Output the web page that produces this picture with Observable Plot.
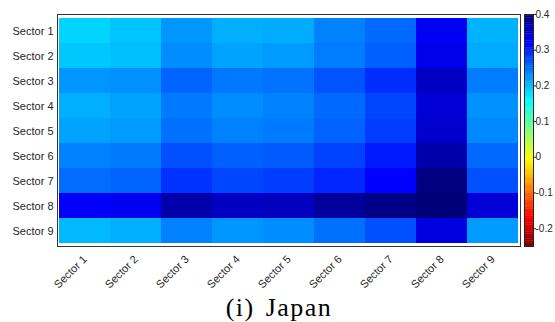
<!DOCTYPE html>
<html>
<head>
<meta charset="utf-8">
<script src="https://cdn.jsdelivr.net/npm/d3@7"></script>
<script src="https://cdn.jsdelivr.net/npm/@observablehq/plot@0.6"></script>
<style>
  html, body { margin: 0; padding: 0; background: #fff; }
  #wrap { position: relative; width: 555px; height: 322px; }
  #heat { position: absolute; left: 0; top: 0; }
  #cbar { position: absolute; left: 520px; top: 0; }
  #title { position: absolute; left: 179px; width: 200px; top: 295px; text-align: center; white-space: nowrap;
           font-family: "Liberation Serif", "Times New Roman", serif; font-size: 26px; line-height: 26px;
           letter-spacing: 1.5px; word-spacing: 3px; color: #000; }
  svg { overflow: visible; }
</style>
</head>
<body>
<div id="wrap">
  <div id="heat"></div>
  <div id="cbar"></div>
  <div id="title">(i) Japan</div>
</div>
<script>
const sectors = ["Sector 1","Sector 2","Sector 3","Sector 4","Sector 5","Sector 6","Sector 7","Sector 8","Sector 9"];
// rows = Sector 1..9 (y), columns = Sector 1..9 (x)
const row1 = [0.183, 0.194, 0.223, 0.207, 0.209, 0.236, 0.252, 0.325, 0.205];
const row2 = [0.191, 0.197, 0.229, 0.214, 0.220, 0.239, 0.258, 0.332, 0.210];
const row3 = [0.223, 0.227, 0.255, 0.242, 0.245, 0.265, 0.290, 0.357, 0.239];
const row4 = [0.207, 0.214, 0.241, 0.229, 0.236, 0.252, 0.274, 0.344, 0.226];
const row5 = [0.214, 0.220, 0.247, 0.236, 0.241, 0.256, 0.280, 0.350, 0.232];
const row6 = [0.236, 0.241, 0.268, 0.258, 0.261, 0.277, 0.302, 0.373, 0.252];
const row7 = [0.249, 0.255, 0.287, 0.274, 0.280, 0.295, 0.319, 0.400, 0.268];
const row8 = [0.322, 0.328, 0.373, 0.357, 0.360, 0.382, 0.395, 0.405, 0.344];
const row9 = [0.201, 0.207, 0.236, 0.223, 0.229, 0.247, 0.268, 0.338, 0.220];
const rows = [row1, row2, row3, row4, row5, row6, row7, row8, row9];
const colorDomain = [-0.25, 0.4];
const colorTicks = [-0.2, -0.1, 0, 0.1, 0.2, 0.3, 0.4];

const cells = [];
rows.forEach((r, i) => r.forEach((v, j) => cells.push({y: sectors[i], x: sectors[j], v})));

const cl = x => Math.max(0, Math.min(1, x));
function jet(t) {
  const r = cl(1.5 - Math.abs(4 * t - 3));
  const g = cl(1.5 - Math.abs(4 * t - 2));
  const b = cl(1.5 - Math.abs(4 * t - 1));
  return `rgb(${Math.round(r * 255)},${Math.round(g * 255)},${Math.round(b * 255)})`;
}
const colorScale = {type: "linear", domain: colorDomain, interpolate: t => jet(1 - t)};

const heat = Plot.plot({
  width: 521, height: 300,
  marginLeft: 57, marginRight: 1, marginTop: 14, marginBottom: 54,
  style: {fontFamily: "'Liberation Sans', Arial, sans-serif", fontSize: "11px", color: "#262626", background: "transparent", overflow: "visible"},
  x: {domain: sectors, padding: 0, label: null, tickSize: 0, tickRotate: -45, tickPadding: 11},
  y: {domain: sectors, padding: 0, label: null, tickSize: 0, tickPadding: 4},
  color: colorScale,
  marks: [
    Plot.cell(cells, {x: "x", y: "y", fill: "v", inset: 0}),
    Plot.frame({stroke: "#333333", strokeWidth: 1})
  ]
});
document.getElementById("heat").appendChild(heat);

const step = 0.005;
const ramp = d3.range(colorDomain[0], colorDomain[1], step);
const cbar = Plot.plot({
  width: 35, height: 300,
  marginLeft: 4, marginRight: 22, marginTop: 14, marginBottom: 54,
  style: {fontFamily: "'Liberation Sans', Arial, sans-serif", fontSize: "10px", color: "#262626", background: "transparent", overflow: "visible"},
  x: {domain: [0, 1], axis: null},
  y: {domain: colorDomain, axis: "right", ticks: colorTicks, tickSize: 2, tickPadding: 0, tickFormat: d => String(d), label: null},
  color: colorScale,
  marks: [
    Plot.rect(ramp, {x1: 0, x2: 1, y1: d => d, y2: d => Math.min(d + step * 1.2, colorDomain[1]), fill: d => d + step / 2}),
    Plot.frame({stroke: "#262626", strokeWidth: 1})
  ]
});
document.getElementById("cbar").appendChild(cbar);
</script>
</body>
</html>
